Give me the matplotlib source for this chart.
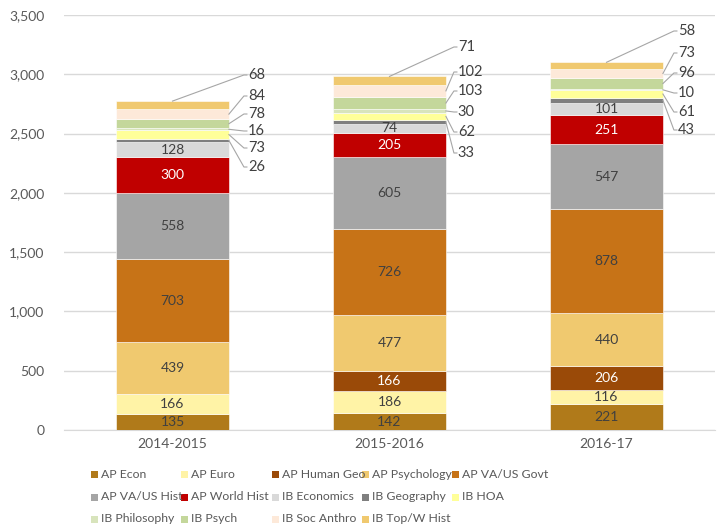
import matplotlib
matplotlib.use("Agg")
import matplotlib.pyplot as plt
from matplotlib.patches import Rectangle
import numpy as np

plt.rcParams['font.family'] = ['Lato', 'DejaVu Sans']

years = ["2014-2015", "2015-2016", "2016-17"]
series = ["AP Econ", "AP Euro", "AP Human Geo", "AP Psychology", "AP VA/US Govt",
          "AP VA/US Hist", "AP World Hist", "IB Economics", "IB Geography", "IB HOA",
          "IB Philosophy", "IB Psych", "IB Soc Anthro", "IB Top/W Hist"]
ap_econ = [135, 142, 221]
ap_euro = [166, 186, 116]
ap_human_geo = [0, 166, 206]
ap_psych = [439, 477, 440]
ap_govt = [703, 726, 878]
ap_hist = [558, 605, 547]
ap_world = [300, 205, 251]
ib_econ = [128, 74, 101]
ib_geo = [26, 33, 43]
ib_hoa = [73, 62, 61]
ib_phil = [16, 30, 10]
ib_psych = [78, 103, 96]
ib_soc = [84, 102, 73]
ib_top = [68, 71, 58]

values = [ap_econ, ap_euro, ap_human_geo, ap_psych, ap_govt, ap_hist, ap_world,
          ib_econ, ib_geo, ib_hoa, ib_phil, ib_psych, ib_soc, ib_top]

colors = ["#B07A1A", "#FFF3A6", "#9A4A08", "#F0C96F", "#C77317", "#A5A5A5", "#C00000",
          "#D9D9D9", "#7F7F7F", "#FFFF99", "#D8E4BC", "#C4D79B", "#FDE9D9", "#F0C96F"]
text_colors = ["#404040", "#404040", "white", "#404040", "#404040", "#404040", "white",
               "#404040"]

FS = 10
W, H = 726, 529
fig = plt.figure(figsize=(W / 100, H / 100), dpi=100)
ax = fig.add_axes([64 / W, 1 - 430 / H, 651 / W, 415 / H])

x = np.arange(len(years))
bw = 0.52
bottom = np.zeros(len(years))
bottoms = []
for i, (name, vals) in enumerate(zip(series, values)):
    v = np.array(vals, dtype=float)
    ax.bar(x, v, bw, bottom=bottom, color=colors[i], edgecolor="white",
           linewidth=0.4, zorder=3, label=name)
    bottoms.append(bottom.copy())
    if i < 8:
        for j in range(len(years)):
            if v[j] > 0:
                ax.text(x[j], bottom[j] + v[j] / 2, f"{int(v[j])}", ha="center",
                        va="center", fontsize=FS, color=text_colors[i], zorder=4)
    bottom = bottom + v

# callout labels for small IB series (pixel positions of label rows, top-to-bottom)
label_rows = [[75, 96, 114, 131, 148, 167],
              [47, 72, 91, 112, 132, 153],
              [31, 53, 73, 93, 112, 130]]
text_dx = [19, 12, 15]
px_per_unit = 415 / 3500.0
cat_px = 651 / 3.0
for j in range(len(years)):
    bar_right_px = 64 + cat_px * (j + 0.5) + bw * cat_px / 2
    tx_px = bar_right_px + text_dx[j]
    tx = (tx_px - 64) / cat_px - 0.5
    for k, si in enumerate(range(13, 7, -1)):
        val = values[si][j]
        ly = (430 - label_rows[j][k]) / px_per_unit
        seg_mid = bottoms[si][j] + val / 2
        if si == 13:
            sx = x[j]
            sy = bottoms[si][j] + val
        else:
            sx = x[j] + bw / 2
            sy = seg_mid
        ex = tx - 4 / cat_px
        ax.plot([sx, ex, tx - 1 / cat_px], [sy, ly, ly], color="#A6A6A6",
                linewidth=0.8, zorder=5, clip_on=False)
        ax.text(tx, ly, f"{val}", ha="left", va="center", fontsize=FS + 0.5,
                color="#404040", zorder=5)

ax.set_xlim(-0.5, 2.5)
ax.set_ylim(0, 3500)
ax.set_yticks(np.arange(0, 3501, 500))
ax.set_yticklabels([f"{t:,}" for t in range(0, 3501, 500)])
ax.set_xticks(x)
ax.set_xticklabels(years)
ax.grid(axis="y", color="#D9D9D9", linewidth=1, zorder=0)
ax.set_axisbelow(True)
for s in ["top", "right", "left"]:
    ax.spines[s].set_visible(False)
ax.spines["bottom"].set_color("#D9D9D9")
ax.tick_params(axis="both", length=0, labelsize=FS, labelcolor="#595959")
ax.tick_params(axis="y", pad=14)
ax.tick_params(axis="x", pad=6)

# legend (row-major, 5 columns)
col_x = [91, 181, 272, 362, 452]
row_y = [474, 497, 519]
for i, name in enumerate(series):
    r, c = divmod(i, 5)
    mx, my = col_x[c], row_y[r]
    fig.add_artist(Rectangle((mx / W, 1 - (my + 3.5) / H), 7 / W, 7 / H,
                             transform=fig.transFigure, facecolor=colors[i],
                             edgecolor="none"))
    fig.text((mx + 10) / W, 1 - my / H, name, ha="left", va="center",
             fontsize=8.8, color="#595959")

fig.savefig("out.png", dpi=100)
